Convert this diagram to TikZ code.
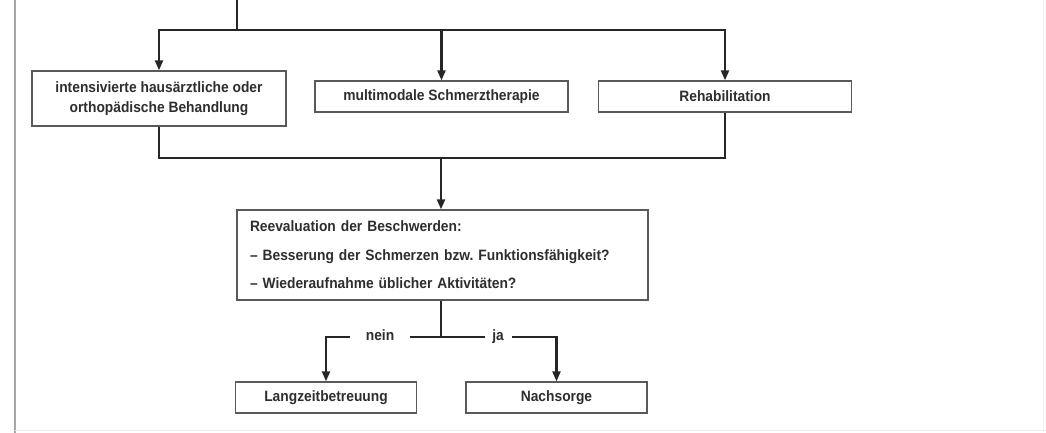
\documentclass[tikz,border=0pt]{standalone}
\usepackage{fontspec}
\setmainfont{Liberation Sans}
\newfontfamily\narrowsans[FakeStretch=0.92]{Liberation Sans}
\usetikzlibrary{arrows.meta}
\frenchspacing
\definecolor{ink}{HTML}{262626}
\definecolor{frame}{HTML}{5A5A5A}
\definecolor{txt}{HTML}{2E2E2E}
\tikzset{
  box/.style={draw=frame, line width=1.3pt, fill=white, inner sep=0pt,
    font=\narrowsans\fontsize{15}{20}\selectfont\bfseries, text=txt, align=center},
  link/.style={draw=ink, line width=2.2pt},
  arr/.style={link, -{Triangle[length=10pt,width=8pt]}},
  lbl/.style={font=\narrowsans\fontsize{15}{16}\selectfont\bfseries, text=txt,
    inner sep=0pt, text height=10.5pt, text depth=3pt}
}
\begin{document}
\begin{tikzpicture}[x=1pt,y=-1pt]
  \useasboundingbox (0,0) rectangle (1046,433);
  % page rules
  \draw[draw=black!35, line width=2pt] (14.5,0) -- (14.5,433);
  \draw[draw=black!6, line width=1pt] (15,430) -- (1046,430);
  \draw[draw=black!6, line width=1pt] (1043,0) -- (1043,430);

  % treatment options
  \node[box, minimum width=254pt, minimum height=55pt] (b1) at (159,98.5)
    {intensivierte hausärztliche oder\\orthopädische Behandlung};
  \node[box, minimum width=253pt, minimum height=31pt] (b2) at (441.5,96.5)
    {multimodale Schmerztherapie};
  \node[box, minimum width=253pt, minimum height=31pt] (b3) at (725,96.5)
    {Rehabilitation};

  % reevaluation
  \node[box, minimum width=411pt, minimum height=90pt, align=left,
        text width=385pt, font=\narrowsans\fontsize{15}{28.5}\selectfont\bfseries] (b4) at (442.5,255)
    {Reevaluation der Beschwerden:\\
     – Besserung der Schmerzen bzw. Funktionsfähigkeit?\\
     – Wiederaufnahme üblicher Aktivitäten?};

  % outcomes
  \node[box, minimum width=181pt, minimum height=31pt] (b5) at (326,397.5)
    {Langzeitbetreuung};
  \node[box, minimum width=181pt, minimum height=31pt] (b6) at (556.5,397.5)
    {Nachsorge};

  % branching from above
  \coordinate (top) at (237,0);
  \coordinate (split) at (237,30);
  \draw[link] (top) -- (split);
  \draw[arr] (split) -| (b1.north);
  \draw[arr] (split) -| (b3.north);
  \draw[arr] (b2.north |- split) -- (b2.north);

  % merge into reevaluation
  \coordinate (join) at (441,158);
  \draw[link] (b1.south) -- (b1.south |- join) -- (b3.south |- join) -- (b3.south);
  \draw[arr] (join) -- (b4.north -| join);

  % decision
  \coordinate (fork) at (441,337);
  \node[lbl] (nein) at (380,337) {nein};
  \node[lbl] (ja) at (498,337) {ja};
  \draw[link] (b4.south -| fork) -- (fork);
  \draw[link] (fork) -- (485,337);
  \draw[link] (fork) -- (410,337);
  \draw[arr] (350,337) -| (b5.north);
  \draw[arr] (512,337) -| (b6.north);
\end{tikzpicture}
\end{document}
